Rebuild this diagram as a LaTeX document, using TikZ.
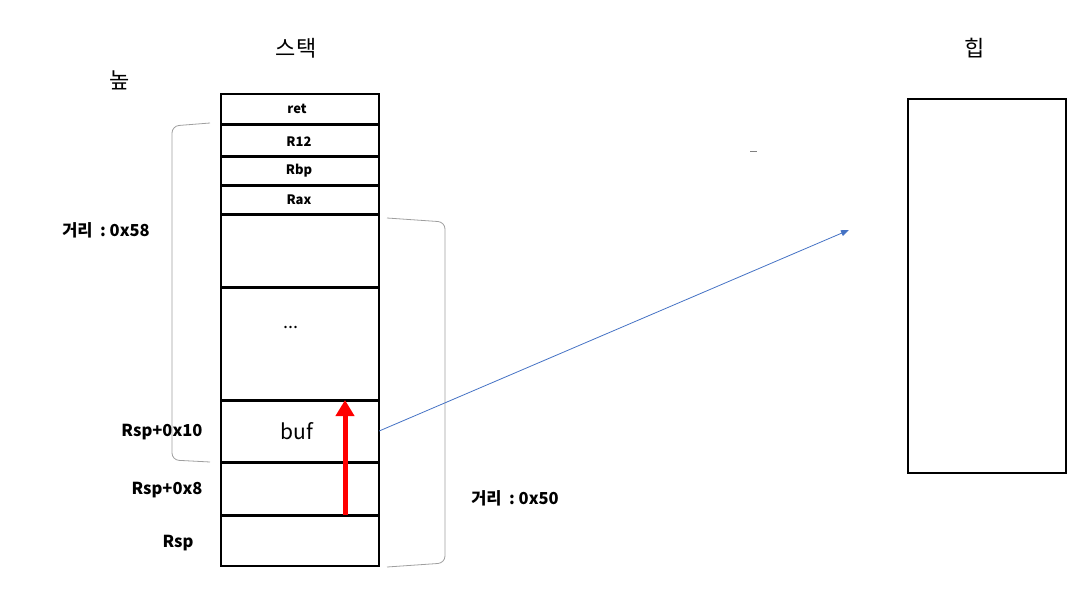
\documentclass[tikz,border=0pt]{standalone}
\usepackage{fontspec}
\setmainfont{Noto Sans CJK KR}
\usetikzlibrary{arrows.meta,positioning}
\tikzset{
sep/.style={line width=3pt},
cell/.style={minimum width=158pt, inner sep=0pt},
reg/.style={font=\bfseries\fontsize{13}{15}\selectfont},
side/.style={font=\bfseries\fontsize{16.5}{18}\selectfont},
title/.style={font=\fontsize{22}{24}\selectfont},
brace/.style={draw=gray!75, line width=0.8pt, rounded corners=7pt},
}

\begin{document}
\begin{tikzpicture}[x=1pt,y=-1pt]
    \useasboundingbox (0,0) rectangle (1080,589);

    % titles
    \node[title] (high) at (120,80) {높};
    \node[title] (stacktitle) at (296,48) {스택};
    \node[title] (heaptitle) at (975,48) {힙};

    % stack
    \node[draw, line width=1.2pt, minimum width=158pt, minimum height=472pt] (stack) at (300,330) {};
    \foreach \y in {124,156,185,214,287,400,462,515}
        \draw[sep] (221,\y) -- (379,\y);
    \node[reg] (ret) at (297,109) {ret};
    \node[reg] (rtwelve) at (299,142) {R12};
    \node[reg] (rbp) at (299,171) {Rbp};
    \node[reg] (rax) at (299,200) {Rax};
    \node[font=\fontsize{18}{20}\selectfont] (dots) at (291,327) {...};
    \node[cell, minimum height=62pt, font=\fontsize{21}{23}\selectfont] (buf) at (300,431) {\hspace*{-6pt}buf};

    % offsets
    \node[side] (dist58) at (106,230) {거리\ \ :\ 0x58};
    \node[side] (rsp10) at (162,432) {Rsp+0x10};
    \node[side] (rsp8) at (167,490) {Rsp+0x8};
    \node[side] (rsp) at (178,543) {Rsp};
    \node[side] (dist50) at (515,498) {거리\ \ :\ 0x50};
    \draw[brace] (210,123) -- (172,126) -- (172,460) -- (210,462);
    \draw[brace] (387,218) -- (445,222) -- (445,563) -- (387,567);

    % overflow
    \coordinate (fillfrom) at (345,515);
    \coordinate (fillto) at (345,400);
    \draw[red, line width=5pt, -{Triangle[length=16pt,width=18pt]}] (fillfrom) -- (fillto);

    % heap
    \node[draw, line width=1.2pt, minimum width=158pt, minimum height=374pt] (heap) at (987,286) {};
    \coordinate (heapin) at (849,230);
    \draw[color={rgb,255:red,68;green,114;blue,196}, line width=0.8pt, -{Triangle[length=8pt,width=6pt]}] (buf.east) -- (heapin);
    \draw[gray, line width=1pt] (750,151) -- (757,151);

\end{tikzpicture}
\end{document}
